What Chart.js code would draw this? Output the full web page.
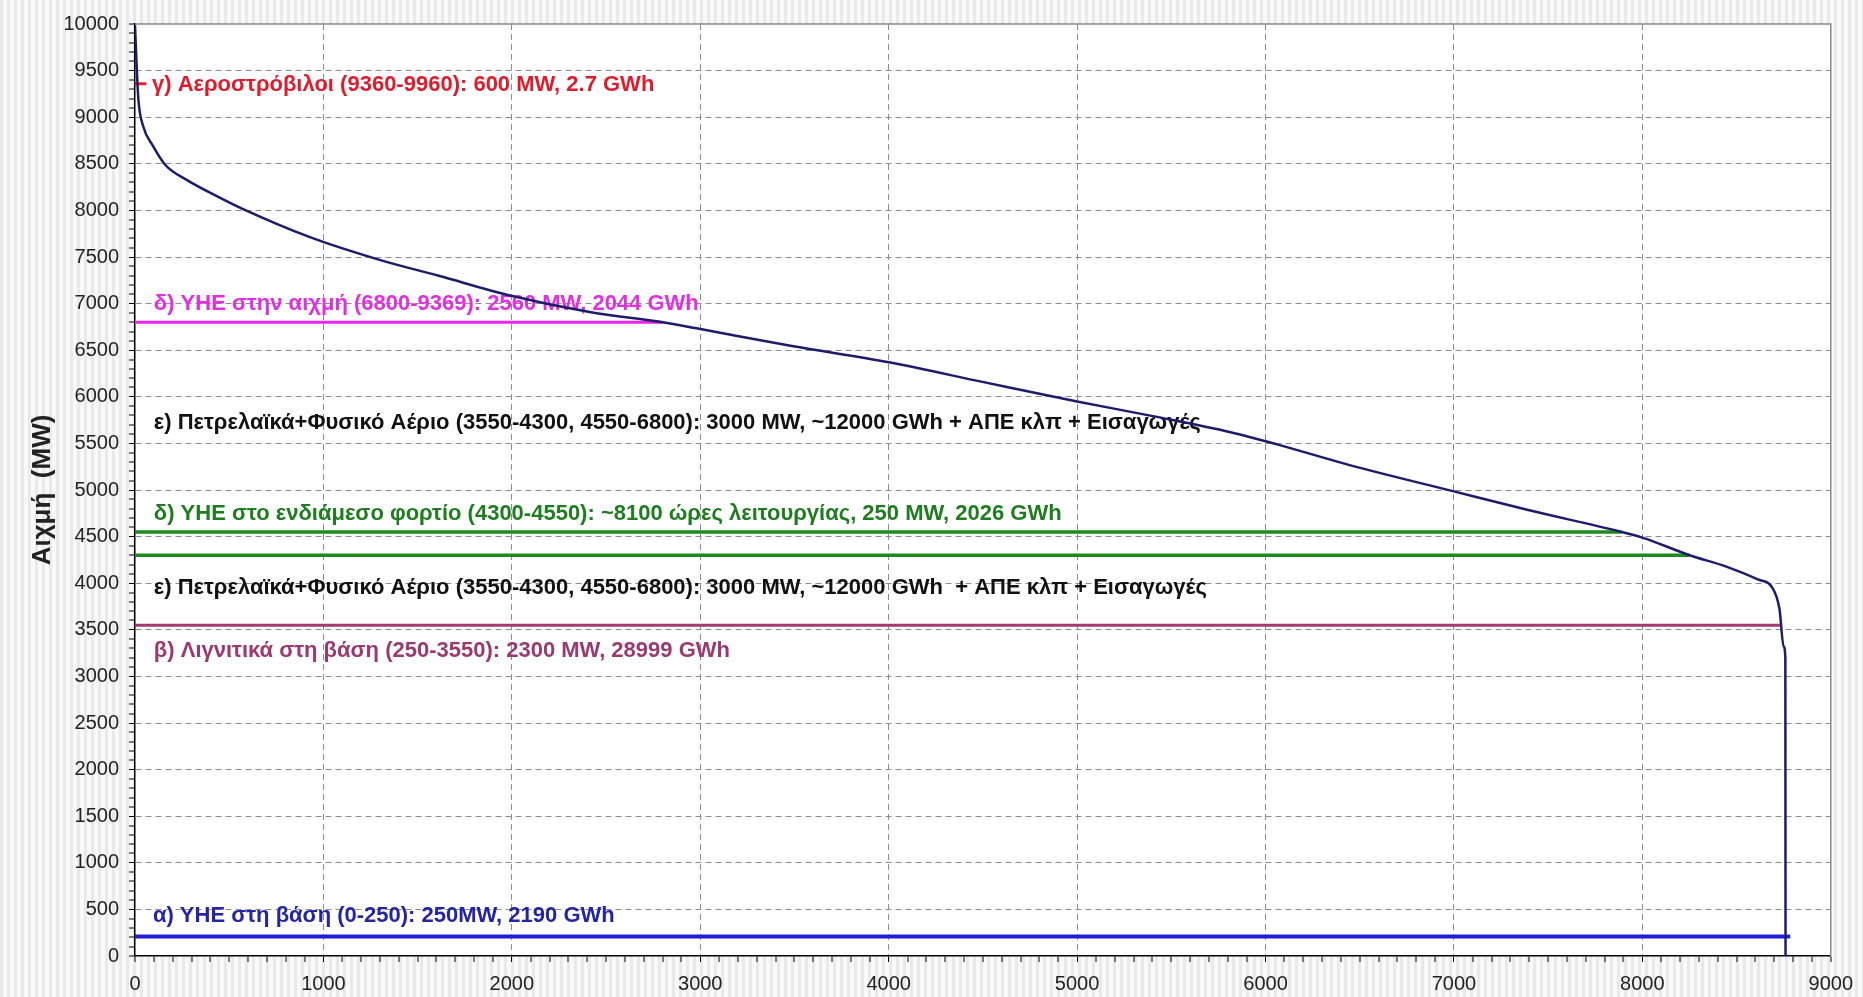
<!DOCTYPE html>
<html lang="el">
<head>
<meta charset="utf-8">
<title>Καμπύλη διάρκειας φορτίου</title>
<script src="https://cdn.jsdelivr.net/npm/chart.js@4.4.1/dist/chart.umd.min.js"></script>
<style>
  html, body { margin: 0; padding: 0; background: #f3f3f3; }
  #wrap { width: 1863px; height: 997px; }
</style>
</head>
<body>
<div id="wrap"><canvas id="loadChart"></canvas></div>
<script>
// καμπύλη διάρκειας φορτίου: ώρες του έτους -> αιχμή (MW)
const hours  = [0, 9, 18, 44, 96, 160, 272, 447, 562, 925, 1289, 1612, 1996, 2420, 2800, 2980,
                3486, 4002, 4498, 5000, 5409, 5814, 6061, 6442, 7000, 7394, 7890, 8000, 8251,
                8442, 8613, 8690, 8728, 8750, 8759, 8760];
const loadMW = [9990, 9540, 9190, 8900, 8690, 8490, 8330, 8140, 8025, 7716, 7475, 7298, 7085, 6908, 6800, 6735,
                6545, 6370, 6160, 5950, 5790, 5620, 5490, 5270, 4985, 4785, 4550, 4489, 4300,
                4180, 4040, 3950, 3720, 3320, 3200, 0];

// οριζόντιες γραμμές ανά κατηγορία μονάδων
const bandLevels = [9360, 6800, 4550, 4300, 3550, 210];
const bandEnds   = [60, 2800, 7890, 8250, 8730, 8785];

// σημειώσεις πάνω στο διάγραμμα
const noteTexts = [
  'γ) Αεροστρόβιλοι (9360-9960): 600 MW, 2.7 GWh',
  'δ) ΥΗΕ στην αιχμή (6800-9369): 2560 MW, 2044 GWh',
  'ε) Πετρελαϊκά+Φυσικό Αέριο (3550-4300, 4550-6800): 3000 MW, ~12000 GWh + ΑΠΕ κλπ + Εισαγωγές',
  'δ) ΥΗΕ στο ενδιάμεσο φορτίο (4300-4550): ~8100 ώρες λειτουργίας, 250 MW, 2026 GWh',
  'ε) Πετρελαϊκά+Φυσικό Αέριο (3550-4300, 4550-6800): 3000 MW, ~12000 GWh  + ΑΠΕ κλπ + Εισαγωγές',
  'β) Λιγνιτικά στη βάση (250-3550): 2300 MW, 28999 GWh',
  'α) ΥΗΕ στη βάση (0-250): 250MW, 2190 GWh'
];
const noteHours  = [90, 100, 100, 100, 100, 100, 95];
const noteLevels = [9350, 7000, 5720, 4740, 3950, 3270, 430];

const FONT = '"Liberation Sans", Arial, sans-serif';
const bandColors = ['#e8202a', '#ee22ee', '#1d8a1d', '#1d8a1d', '#a33b72', '#1f1fd6'];
const bandWidths = [3, 3, 3.5, 3.5, 3, 4];
const noteColors = ['#e01b2b', '#e22fe2', '#111111', '#1e7d1e', '#111111', '#9a3a6e', '#2424a8'];

// ριγέ φόντο γύρω από την περιοχή του διαγράμματος
const backdrop = {
  id: 'backdrop',
  beforeDraw(chart) {
    const { ctx, width, height, chartArea: a } = chart;
    ctx.save();
    ctx.fillStyle = '#f9f9f9';
    ctx.fillRect(0, 0, width, height);
    ctx.fillStyle = '#e9e9e9';
    for (let x = 0; x < width; x += 7) ctx.fillRect(x, 0, 3, height);
    ctx.fillStyle = '#ffffff';
    ctx.fillRect(a.left, a.top, a.right - a.left, a.bottom - a.top);
    ctx.restore();
  }
};

// κείμενα + πάνω/δεξί πλαίσιο
const notes = {
  id: 'notes',
  beforeDatasetsDraw(chart) {
    const { ctx, chartArea: a, scales: { x, y } } = chart;
    ctx.save();
    ctx.strokeStyle = '#8a8a8a';
    ctx.lineWidth = 1.5;
    ctx.beginPath();
    ctx.moveTo(a.left, a.top);
    ctx.lineTo(a.right, a.top);
    ctx.lineTo(a.right, a.bottom);
    ctx.stroke();

    ctx.font = 'bold 22px ' + FONT;
    ctx.textBaseline = 'middle';
    ctx.textAlign = 'left';
    noteTexts.forEach((t, i) => {
      ctx.fillStyle = noteColors[i];
      ctx.fillText(t, x.getPixelForValue(noteHours[i]), y.getPixelForValue(noteLevels[i]));
    });
    ctx.restore();
  }
};

const datasets = [{
  data: hours.map((h, i) => ({ x: h, y: loadMW[i] })),
  showLine: true,
  borderColor: '#1c1c6e',
  borderWidth: 2.5,
  pointRadius: 0,
  cubicInterpolationMode: 'monotone'
}];
bandLevels.forEach((lvl, i) => {
  datasets.push({
    data: [{ x: 0, y: lvl }, { x: bandEnds[i], y: lvl }],
    showLine: true,
    borderColor: bandColors[i],
    borderWidth: bandWidths[i],
    pointRadius: 0
  });
});

new Chart(document.getElementById('loadChart'), {
  type: 'scatter',
  data: { datasets },
  plugins: [backdrop, notes],
  options: {
    responsive: true,
    maintainAspectRatio: false,
    animation: false,
    layout: { padding: { top: 24, right: 24, left: 0, bottom: 0 } },
    plugins: { legend: { display: false }, tooltip: { enabled: false } },
    scales: {
      x: {
        type: 'linear', min: 0, max: 9000,
        afterFit(s) { s.height = 41; },
        ticks: {
          stepSize: 100, autoSkip: false, maxRotation: 0, padding: 10,
          color: '#222', font: { family: FONT, size: 20 },
          callback: v => Math.round(v) % 1000 === 0 ? String(Math.round(v)) : ''
        },
        grid: {
          color: '#8c8c8c',
          lineWidth: c => (c.tick && c.tick.value % 1000 === 0 && c.tick.value > 0 && c.tick.value < 9000) ? 1 : 0,
          tickLength: 6, tickColor: '#000', tickWidth: 1
        },
        border: { color: '#000', width: 1.5, dash: [6, 4] }
      },
      y: {
        type: 'linear', min: 0, max: 10000,
        afterFit(s) { s.width = 135; },
        title: {
          display: true, text: 'Αιχμή  (MW)', color: '#222',
          font: { family: FONT, size: 26, weight: 'bold' },
          padding: { top: 27, bottom: 0 }
        },
        ticks: {
          stepSize: 100, autoSkip: false, padding: 10,
          color: '#222', font: { family: FONT, size: 20 },
          callback: v => Math.round(v) % 500 === 0 ? String(Math.round(v)) : ''
        },
        grid: {
          color: '#8c8c8c',
          lineWidth: c => (c.tick && c.tick.value % 500 === 0 && c.tick.value > 0 && c.tick.value < 10000) ? 1 : 0,
          tickLength: 6, tickColor: '#000', tickWidth: 1
        },
        border: { color: '#000', width: 1.5, dash: [6, 4] }
      }
    }
  }
});
</script>
</body>
</html>
